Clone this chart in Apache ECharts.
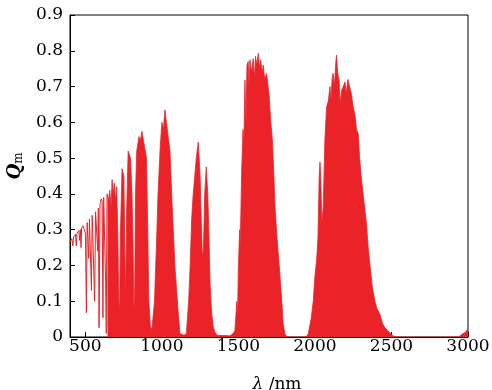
<!DOCTYPE html>
<html>
<head>
<meta charset="utf-8">
<script src="https://cdn.jsdelivr.net/npm/echarts@6/dist/echarts.min.js"></script>
<style>html,body{margin:0;padding:0;background:#fff}#c{width:492px;height:390px}</style>
</head>
<body>
<div id="c"></div>
<script>
// Visible region 400–645 nm: single trace with absorption dips
const lambdaA = [400,412,418,424,436,441,446,458,463,468,472,476,485,496,501,507,512,518,522,527,536,540,545,553,561,567,576,581,585,590,596,604,610,615,620,628,633,637,642];
const qA      = [0.265,0.275,0.255,0.28,0.287,0.255,0.29,0.298,0.27,0.30,0.25,0.305,0.311,0.315,0.29,0.068,0.32,0.325,0.22,0.33,0.335,0.13,0.34,0.345,0.10,0.35,0.355,0.24,0.36,0.026,0.372,0.386,0.38,0.054,0.39,0.395,0.15,0.01,0.40];
// Dense region 645–3000 nm: upper envelope of oscillations
const lambdaB = [645,652,660,668,675,682,690,698,705,712,718,724,730,740,752,758,763,770,780,795,805,812,818,822,828,836,850,860,870,880,888,900,908,915,925,935,942,952,960,968,975,988,1000,1010,1020,1030,1040,1053,1066,1075,1085,1095,1105,1118,1130,1145,1160,1175,1185,1195,1205,1215,1225,1238,1250,1258,1265,1272,1280,1290,1300,1308,1315,1325,1335,1345,1360,1400,1430,1445,1465,1477,1490,1495,1499,1508,1512,1521,1530,1535,1543,1550,1556,1564,1570,1575,1585,1597,1605,1612,1620,1630,1638,1645,1655,1662,1672,1684,1700,1712,1722,1732,1740,1752,1771,1785,1793,1804,1820,1940,1956,1975,1989,2000,2012,2020,2028,2033,2038,2045,2054,2065,2076,2088,2098,2105,2112,2119,2128,2135,2141,2148,2158,2165,2174,2185,2196,2205,2215,2228,2238,2250,2262,2272,2283,2292,2305,2320,2337,2348,2359,2375,2392,2405,2424,2440,2457,2475,2490,2510,2530,2940,2960,2980,2995,3000];
const qB      = [0.40,0.38,0.41,0.36,0.44,0.40,0.43,0.38,0.42,0.30,0.12,0.06,0.30,0.47,0.45,0.25,0.10,0.35,0.52,0.50,0.40,0.25,0.08,0.10,0.40,0.52,0.56,0.55,0.575,0.55,0.53,0.50,0.30,0.10,0.03,0.02,0.02,0.10,0.20,0.30,0.40,0.52,0.60,0.58,0.635,0.60,0.60,0.52,0.38,0.30,0.20,0.14,0.08,0.01,0.005,0.005,0.01,0.10,0.20,0.33,0.40,0.45,0.50,0.545,0.45,0.32,0.22,0.25,0.40,0.475,0.40,0.28,0.15,0.07,0.03,0.015,0.005,0.004,0.004,0.003,0.01,0.017,0.10,0.06,0.176,0.30,0.25,0.457,0.58,0.52,0.718,0.60,0.76,0.77,0.70,0.775,0.74,0.778,0.72,0.785,0.76,0.793,0.75,0.775,0.74,0.76,0.72,0.737,0.68,0.60,0.55,0.45,0.36,0.28,0.176,0.09,0.036,0.008,0,0,0.008,0.05,0.10,0.17,0.22,0.28,0.45,0.489,0.45,0.32,0.36,0.55,0.643,0.66,0.70,0.66,0.72,0.737,0.70,0.76,0.788,0.74,0.718,0.65,0.69,0.70,0.713,0.68,0.72,0.722,0.68,0.643,0.62,0.58,0.568,0.50,0.437,0.38,0.316,0.25,0.204,0.14,0.10,0.08,0.064,0.04,0.026,0.018,0.012,0.003,0,0,0.008,0.012,0.02,0];
const xMin = 400, xMax = 3000;
const yTicks = [0,0.1,0.2,0.3,0.4,0.5,0.6,0.7,0.8,0.9];

const red = '#ea2329';
const chart = echarts.init(document.getElementById('c'), null, {renderer:'canvas'});
const font = 'DejaVu Serif';
chart.setOption({
  animation:false,
  backgroundColor:'#fff',
  grid:{left:70,right:24,top:15,bottom:53,show:true,borderColor:'#000',borderWidth:1,backgroundColor:'transparent',
        containLabel:false,outerBoundsMode:'none'},
  xAxis:{
    type:'value',min:xMin,max:xMax,splitNumber:5,
    axisLine:{show:true,lineStyle:{color:'#000',width:1}},
    axisTick:{show:true,inside:true,length:5,lineStyle:{color:'#000'}},
    axisLabel:{showMinLabel:false,color:'#000',fontFamily:font,fontSize:17,margin:1,formatter:v=>String(v)},
    splitLine:{show:false},
    name:'{i|λ} /nm',nameLocation:'middle',nameGap:39,
    nameTextStyle:{color:'#000',fontFamily:font,fontSize:17,padding:[0,0,0,16],
      rich:{i:{fontStyle:'italic',fontFamily:font,fontSize:17,color:'#000'}}}
  },
  yAxis:{
    type:'value',min:yTicks[0],max:yTicks[yTicks.length-1],interval:0.1,
    axisLine:{show:true,lineStyle:{color:'#000',width:1}},
    axisTick:{show:true,inside:true,length:5,lineStyle:{color:'#000'}},
    axisLabel:{color:'#000',fontFamily:font,fontSize:17,margin:7},
    splitLine:{show:false},
    name:'{q|Q}{m|m}',nameLocation:'middle',nameGap:43,nameRotate:90,
    nameTextStyle:{color:'#000',padding:[0,0,0,20],
      rich:{q:{fontStyle:'italic',fontWeight:'bold',fontFamily:font,fontSize:18,color:'#000'},
            m:{fontFamily:font,fontSize:12,color:'#000',padding:[8,0,0,0]}}}
  },
  series:[
    {type:'line',symbol:'none',data:lambdaA.map((l,i)=>[l,qA[i]]),
     lineStyle:{color:red,width:1},z:3},
    {type:'line',symbol:'none',data:lambdaB.map((l,i)=>[l,qB[i]]),
     lineStyle:{color:red,width:0.8},areaStyle:{color:red,opacity:1},z:2}
  ]
});
</script>
</body>
</html>
